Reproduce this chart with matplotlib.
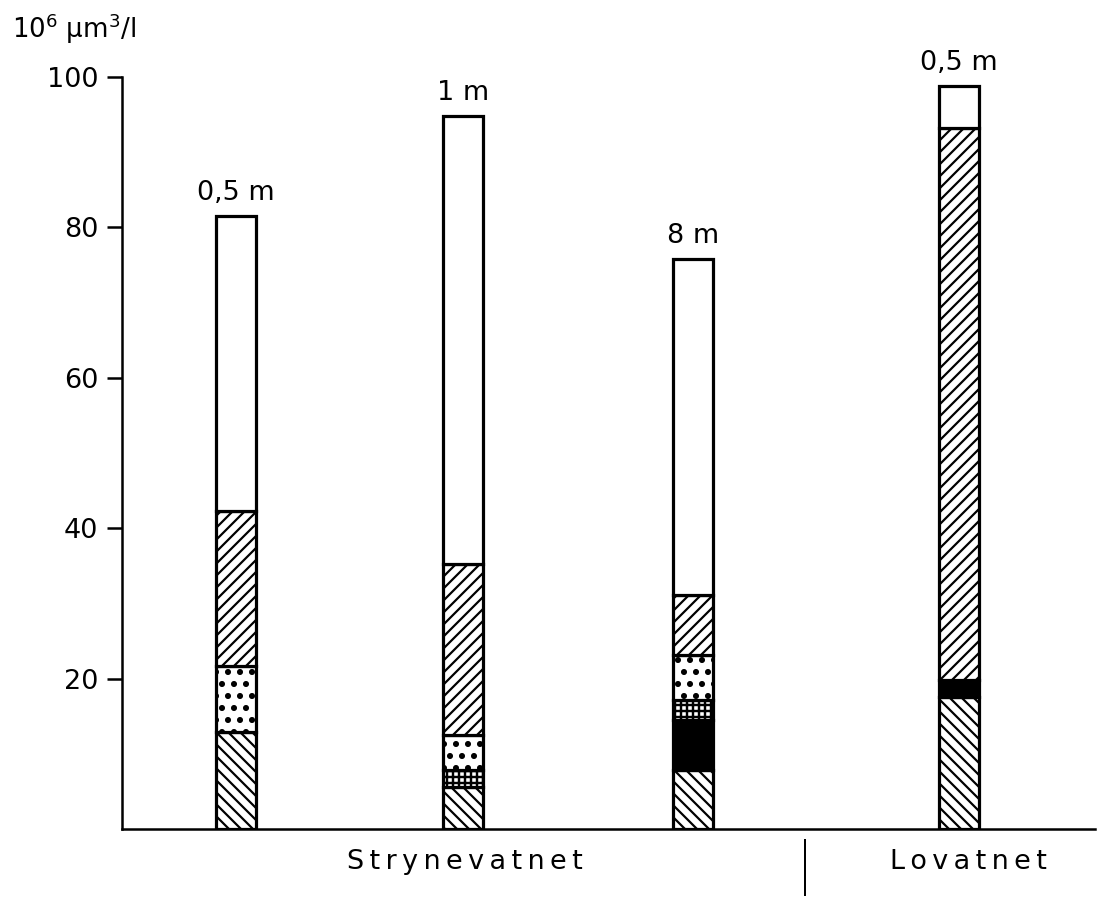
import matplotlib
matplotlib.use("Agg")
import matplotlib.pyplot as plt
import numpy as np

# ---- data ----
bar_labels = ["0,5 m", "1 m", "8 m", "0,5 m"]
lakes = ["Strynevatnet", "Lovatnet"]
seg_backslash = [12.9, 5.6, 7.8, 17.6]
seg_black = [0.0, 0.0, 6.7, 2.2]
seg_cross = [0.0, 2.2, 2.7, 0.0]
seg_dots = [8.8, 4.7, 6.0, 0.0]
seg_slash = [20.6, 22.7, 7.9, 73.4]
seg_white = [39.2, 59.6, 44.7, 5.6]
yticks = [20, 40, 60, 80, 100]

DPI = 72
W, H = 1108, 897
plt.rcParams['font.family'] = ['DejaVu Sans']
fig = plt.figure(figsize=(W / DPI, H / DPI), dpi=DPI)
ax = fig.add_axes([122 / W, 1 - 829 / H, (1095 - 122) / W, (829 - 77) / H])
ax.set_xlim(0, 973)
ax.set_ylim(0, 100)

xpos = [114, 341, 571, 837]
bw = 40
segments = [
    (seg_backslash, dict(facecolor='white', hatch='\\\\'), 2.2),
    (seg_black, dict(facecolor='black', hatch=None), 2.2),
    (seg_cross, dict(facecolor='white', hatch='++'), 2.4),
    (seg_dots, dict(facecolor='white', hatch='.'), 3.6),
    (seg_slash, dict(facecolor='white', hatch='//'), 2.2),
    (seg_white, dict(facecolor='white', hatch=None), 2.2),
]
bottom = np.zeros(len(xpos))
for vals, style, hlw in segments:
    v = np.array(vals)
    mask = v > 0
    with plt.rc_context({'hatch.linewidth': hlw}):
        ax.bar(np.array(xpos)[mask], v[mask], width=bw, bottom=bottom[mask],
               edgecolor='black', linewidth=3.2, zorder=3, **style)
    bottom += v

for x, top, lab in zip(xpos, bottom, bar_labels):
    ax.text(x, top + 2.1, lab, ha='center', va='baseline', fontsize=27, clip_on=False)

for s in ['top', 'right']:
    ax.spines[s].set_visible(False)
ax.spines['left'].set_linewidth(2.5)
ax.spines['bottom'].set_linewidth(2.5)
ax.set_xticks([])
ax.set_yticks(yticks)
ax.set_yticklabels([str(t) for t in yticks], fontsize=27)
ax.tick_params(axis='y', direction='out', length=15, width=2.5, pad=9)

fig.text(12 / W, 1 - 38 / H, r"10$^{6}$ µm$^{3}$/l", fontsize=26, ha='left', va='baseline')

def spaced(s):
    return "\u2009".join(s)

fig.text(465 / W, 1 - 862 / H, spaced(lakes[0]), fontsize=27, ha='center', va='center')
fig.text(968 / W, 1 - 862 / H, spaced(lakes[1]), fontsize=27, ha='center', va='center')
fig.add_artist(plt.Line2D([805 / W, 805 / W], [1 - 840 / H, 1 - 895 / H], color='black', lw=2))

fig.savefig("out.png", dpi=DPI)
